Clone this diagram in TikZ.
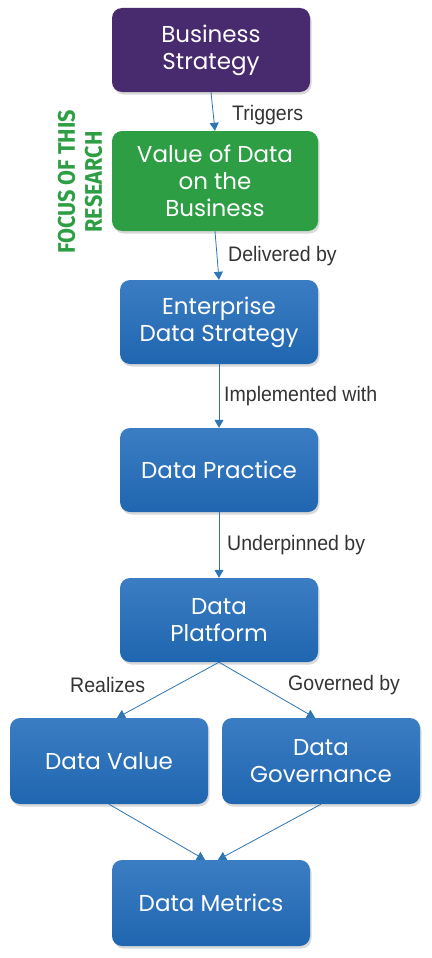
\documentclass[tikz,border=0pt]{standalone}
\usepackage{fontspec}
\setmainfont{Poppins}
\newfontfamily\labelfont[FakeStretch=0.93]{Liberation Sans}
\newfontfamily\focusfont[FakeStretch=0.9]{Fira Sans}
\usetikzlibrary{shadows,arrows.meta}

\definecolor{stratpurple}{HTML}{482A6F}
\definecolor{focusgreen}{HTML}{2E9E45}
\definecolor{boxtop}{HTML}{3B7DC3}
\definecolor{boxbottom}{HTML}{1F66B0}
\definecolor{flowblue}{HTML}{2E75B6}
\definecolor{labelgray}{HTML}{333333}

\tikzset{
  box/.style={rounded corners=10pt, minimum width=198pt, minimum height=84pt,
    inner sep=2pt, text=white, align=center, font=\fontsize{23}{27}\selectfont,
    drop shadow={opacity=0.3, shadow xshift=1.5pt, shadow yshift=-2.5pt}},
  bluebox/.style={box, top color=boxtop, bottom color=boxbottom},
  flow/.style={draw=flowblue, line width=0.8pt, -{Triangle[width=9pt,length=8pt]}},
  lbl/.style={anchor=west, inner sep=0pt, text=labelgray,
    font=\labelfont\fontsize{21}{24}\selectfont}
}

\begin{document}
\begin{tikzpicture}[x=1pt,y=-1pt]
\useasboundingbox (0,0) rectangle (431,958);

% boxes
\node[box, fill=stratpurple] (bs) at (211,50) {Business\\Strategy};
\node[box, fill=focusgreen, minimum width=206pt, minimum height=100pt] (vod) at (215,181) {Value of Data\\on the\\Business};
\node[bluebox] (eds) at (219,322) {Enterprise\\Data Strategy};
\node[bluebox] (dp) at (219,470) {Data Practice};
\node[bluebox] (dpl) at (219,620) {Data\\Platform};
\node[bluebox, minimum height=86pt] (dv) at (109,761) {Data Value};
\node[bluebox, minimum height=86pt] (dg) at (321,761) {Data\\Governance};
\node[bluebox, minimum height=86pt] (dm) at (211,903) {Data Metrics};

% focus note
\node[rotate=90, text=focusgreen, align=center, font=\focusfont\bfseries\fontsize{24}{27}\selectfont] (focus) at (80,182) {FOCUS OF THIS\\RESEARCH};

% connectors
\draw[flow] (bs.south) -- (vod.north);
\draw[flow] (vod.south) -- (eds.north);
\draw[flow] (eds.south) -- (dp.north);
\draw[flow] (dp.south) -- (dpl.north);
\draw[flow] (dpl.south) -- ([xshift=8pt]dv.north);
\draw[flow] (dpl.south) -- ([xshift=-6pt]dg.north);
\draw[flow] (dv.south) -- ([xshift=-6pt]dm.north);
\draw[flow] (dg.south) -- ([xshift=7pt]dm.north);

% labels
\node[lbl] (trig) at (232,115) {Triggers};
\node[lbl] (deliv) at (228,256) {Delivered by};
\node[lbl] (impl) at (224,396) {Implemented with};
\node[lbl] (under) at (227,545) {Underpinned by};
\node[lbl] (real) at (70,685) {Realizes};
\node[lbl] (gov) at (288,685) {Governed by};
\end{tikzpicture}
\end{document}
